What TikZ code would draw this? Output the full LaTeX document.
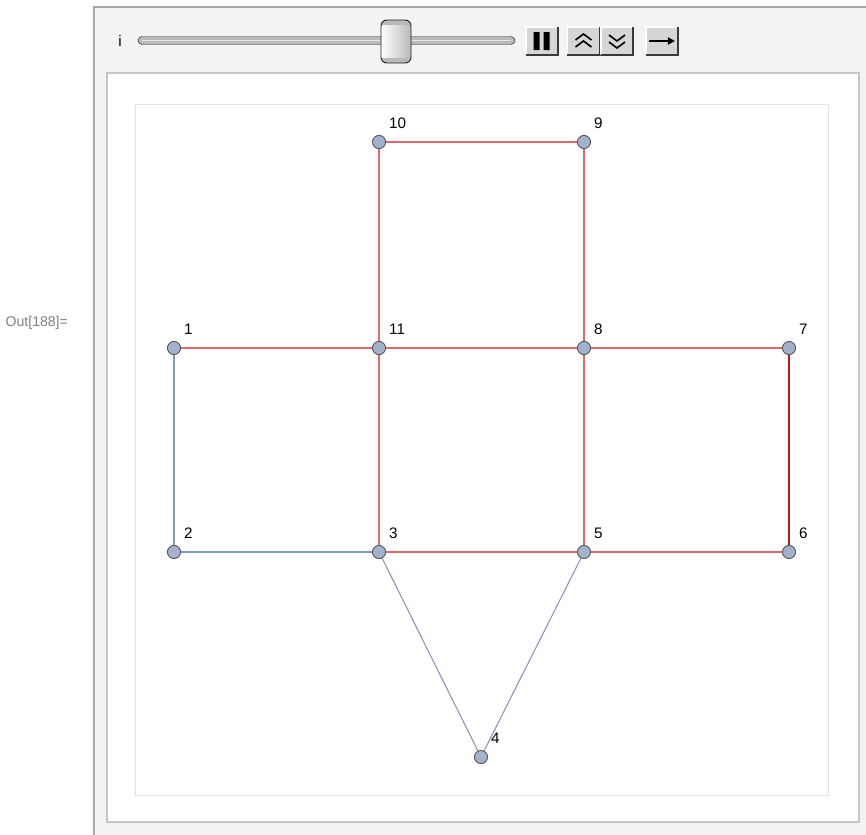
\documentclass[tikz,border=0pt]{standalone}
\usepackage{fontspec}
\setmainfont{Liberation Sans}
\usetikzlibrary{arrows.meta,positioning}
\definecolor{panelfill}{HTML}{F3F3F3}
\definecolor{panelline}{HTML}{A8A8A8}
\definecolor{boxline}{HTML}{C6C6C6}
\definecolor{frameline}{HTML}{E2E2E2}
\definecolor{edgered}{HTML}{E06A6A}
\definecolor{edgedark}{HTML}{B01E1E}
\definecolor{edgeblue}{HTML}{8397B8}
\definecolor{vertexfill}{HTML}{A3B2CC}
\definecolor{vertexline}{HTML}{505050}
\definecolor{btnfill}{HTML}{D6D6D6}
\tikzset{
  vertex/.style={circle, draw=vertexline, fill=vertexfill, inner sep=0pt, minimum size=0.39cm, line width=0.6pt},
  vlabel/.style={anchor=base west, inner sep=0pt, xshift=0.3cm, yshift=0.42cm, font=\fontsize{13}{15}\selectfont},
  redline/.style={draw=edgered, line width=0.9pt},
  darkline/.style={draw=edgedark, line width=0.9pt},
  blueline/.style={draw=edgeblue, line width=0.9pt},
  ctlbutton/.style={draw=gray!55, fill=btnfill, minimum width=0.95cm, minimum height=0.84cm, inner sep=0pt},
  btnshade/.style={draw=gray!45!black, line width=1.6pt},
  btnlight/.style={draw=white, line width=1.6pt},
  chevron/.style={line width=1.4pt, line join=miter}
}

\begin{document}
\begin{tikzpicture}[x=0.03cm, y=-0.03cm]
  \useasboundingbox (0,0) rectangle (866,834);
  \clip (0,0) rectangle (866,834);

  % manipulate panel
  \fill[white] (0,0) rectangle (866,834);
  \draw[panelline, fill=panelfill, line width=2pt] (94,7) rectangle (900,900);
  \draw[boxline, fill=white, line width=1.5pt] (107,73) rectangle (859,822);
  \draw[frameline, line width=0.6pt] (135,104) rectangle (828,795);
  \node[gray, anchor=base east, font=\fontsize{12}{14}\selectfont] (outlabel) at (72,326) {Out[188]=};

  % slider
  \node[anchor=base, font=\fontsize{13}{15}\selectfont] (ilabel) at (120,46) {i};
  \draw[gray!30!black, fill=gray!55, rounded corners=3.5] (138,36.5) rectangle (515,44.5);
  \draw[gray!20, line width=1.2pt] (142,40.5) -- (511,40.5);
  \begin{scope}
    \clip[rounded corners=5] (381,20) rectangle (411,63);
    \shade[left color=white, right color=gray!55] (381,20) rectangle (411,63);
    \fill[gray!55] (381,20) rectangle (411,25);
    \fill[gray!55] (381,58) rectangle (411,63);
  \end{scope}
  \draw[gray!25!black, rounded corners=5, line width=0.8pt] (381,20) rectangle (411,63);

  % buttons
  \node[ctlbutton] (pause) at (542,41) {};
  \node[ctlbutton] (faster) at (583.5,41) {};
  \node[ctlbutton] (slower) at (617,41) {};
  \node[ctlbutton] (step) at (662,41) {};
  \foreach \b in {pause,faster,slower,step} {
    \draw[btnlight] (\b.south west) -- (\b.north west) -- (\b.north east);
    \draw[btnshade] (\b.south west) -- (\b.south east) -- (\b.north east);
  }
  \fill[shift={(pause.center)}] (-8.5,-9) rectangle (-2.5,9) (1.5,-9) rectangle (7.5,9);
  \draw[chevron, shift={(faster.center)}] (-8,-1) -- (0,-7) -- (8,-1) (-8,6) -- (0,0) -- (8,6);
  \draw[chevron, shift={(slower.center)}] (-8,-6) -- (0,0) -- (8,-6) (-8,1) -- (0,7) -- (8,1);
  \draw[-{Triangle[length=6pt, width=6pt]}, line width=1.4pt, shift={(step.center)}] (-13,0) -- (13,0);

  % graph vertices
  \node[vertex] (v1) at (174,348) {};
  \node[vertex] (v2) at (174,552) {};
  \node[vertex] (v3) at (379,552) {};
  \node[vertex] (v4) at (481,757) {};
  \node[vertex] (v5) at (584,552) {};
  \node[vertex] (v6) at (789,552) {};
  \node[vertex] (v7) at (789,348) {};
  \node[vertex] (v8) at (584,348) {};
  \node[vertex] (v9) at (584,142) {};
  \node[vertex] (v10) at (379,142) {};
  \node[vertex] (v11) at (379,348) {};

  % edges
  \foreach \a/\b in {v1/v11,v11/v8,v8/v7,v10/v9,v10/v11,v9/v8,v11/v3,v8/v5,v3/v5,v5/v6}
    \draw[redline] (\a) -- (\b);
  \draw[darkline] (v7) -- (v6);
  \foreach \a/\b in {v1/v2,v2/v3,v3/v4,v4/v5}
    \draw[blueline] (\a) -- (\b);

  % redraw vertices on top of edges
  \foreach \n in {1,...,11} {
    \node[vertex] at (v\n) {};
    \node[vlabel] (l\n) at (v\n) {\n};
  }
\end{tikzpicture}
\end{document}
